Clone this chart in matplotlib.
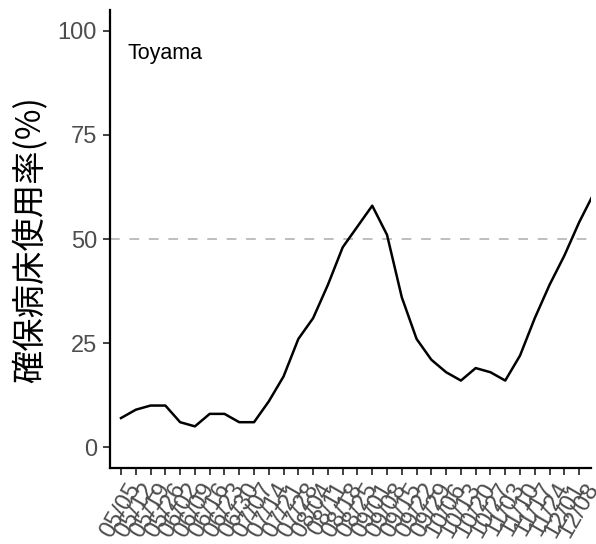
import matplotlib.pyplot as plt

# 週ごとの日付ラベル（最後の 12/15 は右端で切れる）
dates = ['05/05', '05/12', '05/19', '05/26', '06/02', '06/09', '06/16', '06/23',
         '06/30', '07/07', '07/14', '07/21', '07/28', '08/04', '08/11', '08/18',
         '08/25', '09/01', '09/08', '09/15', '09/22', '09/29', '10/06', '10/13',
         '10/20', '10/27', '11/03', '11/10', '11/17', '11/24', '12/01', '12/08',
         '12/15']
usage = [7, 9, 10, 10, 6, 5, 8, 8, 6, 6, 11, 17, 26, 31, 39, 48, 53, 58, 51, 36,
         26, 21, 18, 16, 19, 18, 16, 22, 31, 39, 46, 54, 61]
yticks = [0, 25, 50, 75, 100]
threshold = 50
pref = 'Toyama'

plt.rcParams['font.family'] = ['Liberation Sans', 'DejaVu Sans']

fig = plt.figure(figsize=(5.96, 5.44), dpi=100)
ax = fig.add_axes([109.5 / 596, 1 - 468 / 544, 481 / 596, 458 / 544])

x = list(range(len(dates)))
ax.axhline(threshold, color='#BEBEBE', linewidth=1.4, linestyle=(0, (5, 5)), zorder=1)
ax.plot(x, usage, color='black', linewidth=1.8, zorder=2)

ax.text(0.47, 94.5, pref, fontsize=15.5, color='black', ha='left', va='center')

ax.set_xlim(-0.78, 31.77)
ax.set_ylim(-5, 105)
ax.set_xticks(x[:-1])
ax.set_xticklabels(dates[:-1], rotation=60, ha='center', va='top')
ax.set_yticks(yticks)

for side in ['top', 'right']:
    ax.spines[side].set_visible(False)
for side in ['left', 'bottom']:
    ax.spines[side].set_linewidth(1.6)
    ax.spines[side].set_color('black')

ax.tick_params(axis='both', length=5, width=1.3, color='#333333',
               labelcolor='#4D4D4D', labelsize=17)
ax.tick_params(axis='y', pad=4)
ax.tick_params(axis='x', pad=3)

fig.text(31 / 596, 1 - 240 / 544, '確保病床使用率(%)', rotation=90,
         ha='center', va='center', fontsize=24, color='black',
         family=['Noto Sans CJK JP', 'DejaVu Sans'])

fig.savefig('out.png', dpi=100)
